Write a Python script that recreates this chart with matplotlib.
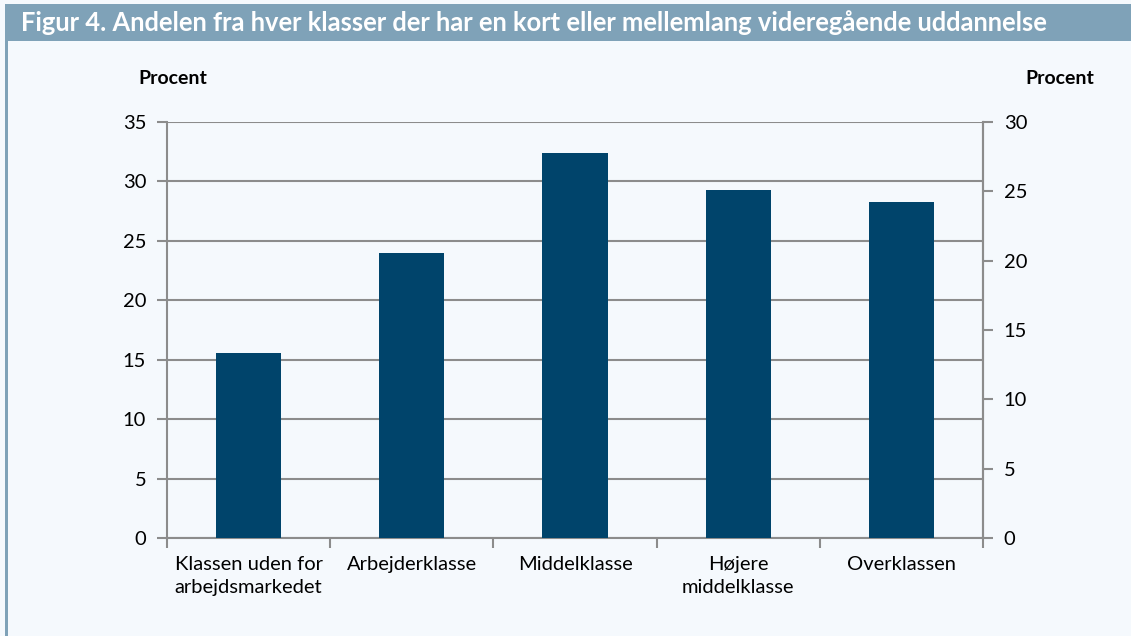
import matplotlib
matplotlib.use("Agg")
import matplotlib.pyplot as plt
from matplotlib.patches import Rectangle

categories = ["Klassen uden for\narbejdsmarkedet", "Arbejderklasse", "Middelklasse",
              "Højere\nmiddelklasse", "Overklassen"]
values = [15.6, 24.0, 32.4, 29.3, 28.3]
left_ticks = [0, 5, 10, 15, 20, 25, 30, 35]
right_ticks = [0, 5, 10, 15, 20, 25, 30]
title = "Figur 4. Andelen fra hver klasser der har en kort eller mellemlang videregående uddannelse"

plt.rcParams['font.family'] = ['Lato', 'DejaVu Sans']

W, H = 1131, 636
fig = plt.figure(figsize=(W / 100, H / 100), dpi=100)
fig.patch.set_facecolor('#f5f9fd')

band = '#7fa2b8'
fig.add_artist(Rectangle((5 / W, 1 - 41 / H), 1 - 5 / W, 37 / H, transform=fig.transFigure,
                         facecolor=band, edgecolor='none'))
fig.add_artist(Rectangle((5 / W, 0), 3 / W, 1 - 41 / H, transform=fig.transFigure,
                         facecolor=band, edgecolor='none'))
fig.text(21 / W, 1 - 23 / H, title, color='white', fontsize=18.4, fontweight='bold',
         va='center', ha='left')

ax = fig.add_axes([167 / W, 1 - 538 / H, (983 - 167) / W, (538 - 122) / H])
ax.set_facecolor('none')
x = list(range(len(categories)))
ax.bar(x, values, width=0.4, color='#00446b', zorder=3)
ax.set_xlim(-0.5, len(categories) - 0.5)
ax.set_ylim(0, 35)
ax.set_yticks(left_ticks)
ax.yaxis.grid(True, color='#8c8c8c', linewidth=1.5, zorder=0)
ax.set_axisbelow(True)
gc = '#8c8c8c'
ax.spines['top'].set_visible(False)
for s in ['left', 'right', 'bottom']:
    ax.spines[s].set_color(gc)
    ax.spines[s].set_linewidth(1.5)
ax.set_xticks(x)
ax.set_xticklabels(categories, fontsize=14.5, linespacing=1.45)
ax.tick_params(axis='x', length=0, pad=13)
ax.set_xticks([i - 0.5 for i in range(len(categories) + 1)], minor=True)
ax.tick_params(axis='x', which='minor', length=7, width=1.5, color=gc)
ax.tick_params(axis='y', length=7, width=1.5, color=gc, labelsize=14.5, pad=8)

ax2 = ax.twinx()
ax2.set_ylim(0, 30)
ax2.set_yticks(right_ticks)
for s in ['top', 'left', 'bottom']:
    ax2.spines[s].set_visible(False)
ax2.spines['right'].set_color(gc)
ax2.spines['right'].set_linewidth(1.5)
ax2.tick_params(axis='y', length=7, width=1.5, color=gc, labelsize=14.5, pad=8)

fig.text(173 / W, 1 - 78 / H, "Procent", fontsize=14, fontweight='bold', ha='center', va='center')
fig.text(1060 / W, 1 - 78 / H, "Procent", fontsize=14, fontweight='bold', ha='center', va='center')

fig.savefig("out.png", dpi=100, facecolor=fig.get_facecolor())
